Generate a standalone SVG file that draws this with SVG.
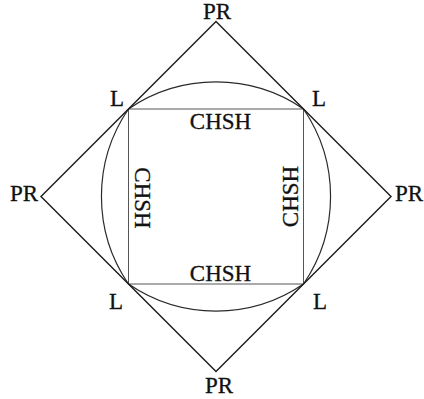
<svg xmlns="http://www.w3.org/2000/svg" width="424" height="399" viewBox="0 0 424 399">
<style>
.t{font-family:"Liberation Serif","Times New Roman",serif;font-size:23px;fill:#111;stroke:#111;stroke-width:0.3}
.m{text-anchor:middle}
.dia{fill:none;stroke:#1a1a1a;stroke-width:1.4}
.arc{fill:none;stroke:#2a2a2a;stroke-width:1.2}
.sq{fill:none;stroke:#555;stroke-width:1}
</style>
<rect width="424" height="399" fill="#fff"/>
<g id="connectors">
<path class="sq" d="M128.5,109 H303.5 V284 H128.5 Z"/>
<path class="arc" d="M128.5,109 A155,155 0 0 1 303.5,109 A155,155 0 0 1 303.5,284 A155,155 0 0 1 128.5,284 A155,155 0 0 1 128.5,109 Z"/>
<path class="dia" d="M216,21.5 L391,196.5 L216,371.5 L41,196.5 Z"/>
</g>
<g id="pr-top"><text class="t m" x="217" y="19">PR</text></g>
<g id="pr-left"><text class="t" x="10" y="201">PR</text></g>
<g id="pr-right"><text class="t" x="395" y="201">PR</text></g>
<g id="pr-bottom"><text class="t m" x="219" y="393">PR</text></g>
<g id="l-tl"><text class="t" x="110" y="106">L</text></g>
<g id="l-tr"><text class="t" x="312" y="106">L</text></g>
<g id="l-bl"><text class="t" x="109" y="309">L</text></g>
<g id="l-br"><text class="t" x="313" y="309">L</text></g>
<g id="chsh-top"><text class="t m" x="220.5" y="128.5">CHSH</text></g>
<g id="chsh-bottom"><text class="t m" x="220.5" y="281">CHSH</text></g>
<g id="chsh-left"><text class="t m" transform="translate(135,198) rotate(90)">CHSH</text></g>
<g id="chsh-right"><text class="t m" transform="translate(298,196.5) rotate(-90)">CHSH</text></g>
</svg>
